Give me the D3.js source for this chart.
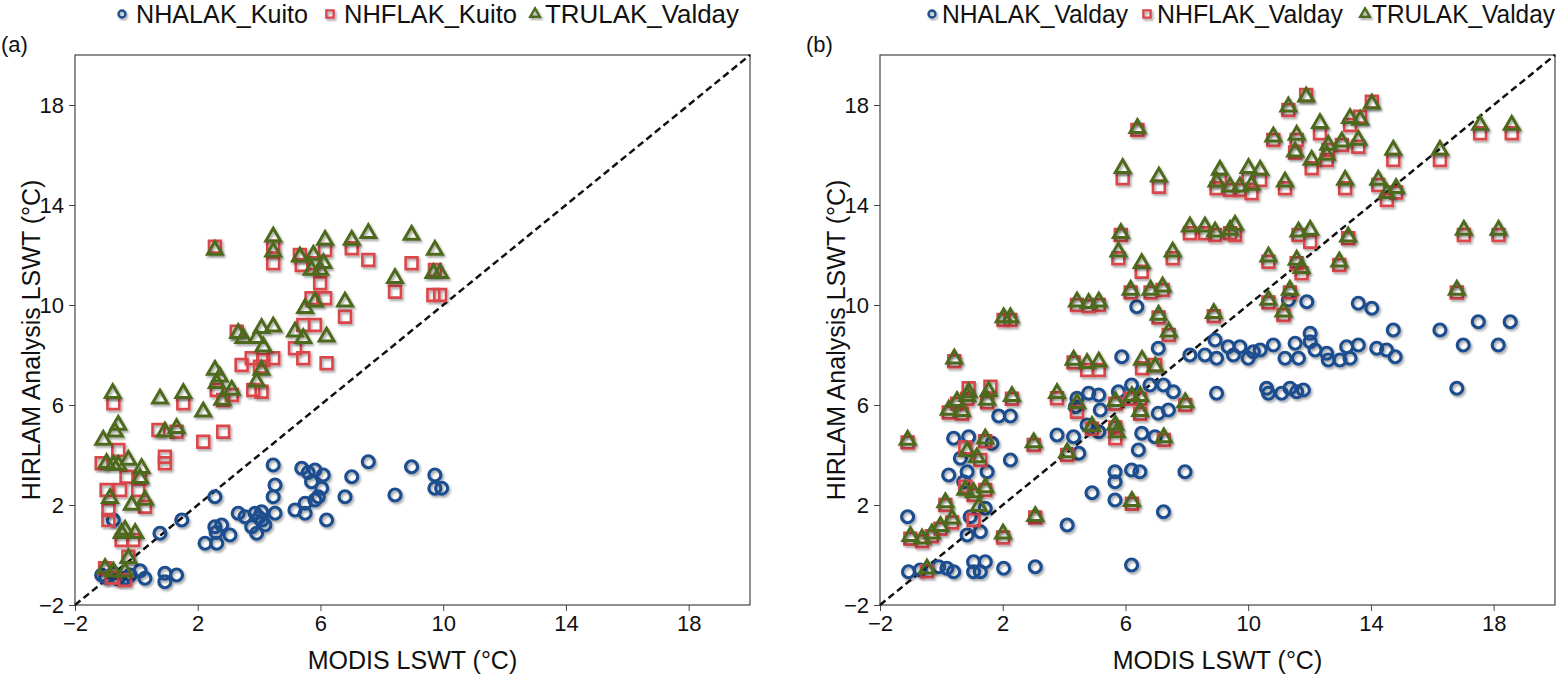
<!DOCTYPE html>
<html>
<head>
<meta charset="utf-8">
<script src="https://cdnjs.cloudflare.com/ajax/libs/d3/7.8.5/d3.min.js"></script>
<style>
  body { margin: 0; background: #fff; }
  svg text { font-family: "Liberation Sans", Arial, Helvetica, sans-serif; fill: #111; }
</style>
</head>
<body>
<script>
// ---- data: [MODIS, HIRLAM] in degC ----
const axisTicks = [-2, 2, 6, 10, 14, 18];
const axisDomain = [-2, 20];
const xTitle = 'MODIS LSWT (°C)';
const yTitle = 'HIRLAM Analysis LSWT (°C)';

// panel (a)
const legendA = ['NHALAK_Kuito', 'NHFLAK_Kuito', 'TRULAK_Valday'];
const nhalakKuito = [
  [-1.13,-0.8],[-1.0,-0.9],[-0.75,-0.73],[-0.6,-0.95],[-0.37,-0.93],[-0.2,-0.8],[0.12,-0.63],[0.28,-0.93],
  [0.93,-0.73],[0.93,-1.07],[1.31,-0.8],[-0.75,1.4],[0.77,0.87],[1.48,1.4],[2.56,2.33],[2.24,0.47],
  [2.62,0.47],[2.56,1.13],[2.78,1.2],[3.05,0.8],[2.6,0.9],[3.32,1.67],[3.54,1.53],[3.87,1.67],
  [4.08,1.73],[3.92,0.87],[3.76,1.13],[4.19,1.2],[4.0,1.5],[4.1,1.4],[4.52,1.67],[4.46,3.6],
  [4.52,2.8],[4.46,2.33],[5.17,1.8],[5.5,1.67],[5.39,3.47],[5.6,3.3],[5.82,3.4],[6.09,3.2],
  [5.71,2.93],[6.04,2.67],[5.93,2.33],[5.5,2.07],[5.82,2.2],[6.2,1.4],[7.02,3.13],[6.8,2.33],
  [7.56,3.73],[8.97,3.53],[9.73,3.2],[9.73,2.67],[9.95,2.67],[8.43,2.4]
];
const nhflakKuito = [
  [-0.75,6.07],[1.53,6.07],[0.72,5.0],[1.31,4.93],[2.83,4.93],[2.18,4.53],[0.93,3.93],[0.93,3.67],
  [-0.59,4.2],[-1.13,3.67],[-0.32,3.13],[-0.97,2.6],[-0.53,2.6],[0.06,2.6],[0.12,3.07],[-0.91,1.8],
  [-0.91,1.4],[0.28,1.93],[-0.48,0.6],[-0.1,0.6],[-0.26,-0.07],[-1.02,-0.53],[-0.37,-1.0],[-0.8,-0.9],
  [2.56,12.33],[4.46,12.33],[4.46,11.67],[5.33,12.0],[5.39,11.6],[5.77,11.67],[6.15,12.2],[7.02,12.27],
  [7.56,11.8],[8.97,11.67],[9.73,11.4],[9.68,10.4],[9.9,10.4],[8.43,10.53],[5.99,10.87],[5.71,10.27],
  [6.15,10.27],[5.44,9.2],[5.82,9.2],[6.8,9.53],[5.17,8.27],[5.44,7.87],[6.2,7.67],[3.27,8.93],
  [3.43,7.6],[3.76,7.87],[4.14,7.8],[4.46,7.87],[4.03,7.53],[2.62,6.6],[2.83,6.2],[3.81,6.6],
  [4.08,6.53],[3.11,6.4]
];
const trulakValdayA = [
  [-0.59,5.2],[-0.7,4.93],[-1.08,4.6],[-0.97,3.67],[-0.75,3.6],[-0.59,3.6],[-0.26,3.8],[0.17,3.47],
  [0.12,3.07],[-0.86,2.27],[-0.15,2.0],[0.28,2.2],[-0.37,1.0],[-0.48,0.87],[-0.04,0.87],[-0.26,-0.13],
  [-1.02,-0.53],[-0.75,-0.67],[-0.37,-0.67],[0.93,4.93],[1.31,5.07],[2.18,5.73],[2.8,6.2],[0.77,6.25],
  [-0.77,6.47],[1.53,6.47],[2.56,12.2],[4.46,12.73],[4.46,12.13],[5.33,11.93],[5.77,12.0],[6.15,12.6],
  [7.02,12.6],[7.56,12.87],[8.97,12.8],[9.73,12.2],[9.68,11.27],[9.9,11.27],[8.43,11.07],[5.99,11.4],
  [5.71,11.4],[6.1,11.67],[5.82,10.13],[5.5,9.87],[6.8,10.13],[5.17,8.93],[5.44,8.67],[6.2,8.73],
  [3.32,8.87],[3.49,8.67],[4.08,9.07],[4.46,9.13],[3.92,8.67],[4.14,8.33],[2.56,7.4],[2.72,7.13],
  [2.62,6.87],[3.11,6.6],[3.92,6.93],[4.08,7.4]
];

// panel (b)
const legendB = ['NHALAK_Valday', 'NHFLAK_Valday', 'TRULAK_Valday'];
const nhalakValday = [
  [-1.07,-0.67],[-0.69,-0.6],[-0.09,-0.47],[0.18,-0.53],[0.4,-0.67],[1.05,-0.27],[1.43,-0.27],[1.05,-0.67],
  [1.27,-0.67],[2.03,-0.53],[3.06,-0.47],[-1.1,1.53],[4.1,1.2],[4.91,2.49],[3.77,4.8],[4.31,4.73],
  [4.48,4.07],[2.25,3.8],[1.49,3.33],[0.24,3.2],[0.62,3.87],[0.84,3.33],[0.73,2.93],[0.4,4.67],
  [0.89,4.73],[1.65,4.47],[1.87,5.56],[2.25,5.56],[0.94,1.53],[0.84,0.8],[1.27,0.93],[1.43,1.87],
  [4.42,6.27],[4.8,6.47],[5.13,6.4],[5.18,5.8],[4.75,5.2],[5.13,4.93],[4.37,5.93],
  [6.37,9.93],[5.88,7.93],[7.07,8.27],[8.1,8.0],[8.59,8.0],[8.92,8.6],[8.97,7.87],[9.35,8.33],
  [9.52,8.0],[9.73,8.33],[10.0,7.87],[10.17,8.13],[10.39,8.2],[10.82,8.4],[11.2,7.87],[11.53,8.47],
  [11.64,7.87],[12.02,8.87],[12.02,8.53],[12.18,8.2],[12.56,8.07],[12.61,7.8],[12.99,7.8],[13.21,8.33],
  [13.32,7.87],[13.59,8.4],[14.19,8.27],[14.51,8.2],[14.79,7.93],[14.73,9.0],[16.25,9.0],[17.5,9.33],
  [18.54,9.33],[17.01,8.4],[18.15,8.4],[16.8,6.67],[13.59,10.07],[14.03,9.87],[11.31,10.2],[11.91,10.13],
  [8.97,6.47],[10.6,6.67],[10.66,6.47],[11.09,6.47],[11.36,6.67],[11.58,6.53],[11.8,6.6],[6.8,6.8],
  [7.24,6.8],[7.56,6.53],[6.2,6.8],[5.77,6.53],[7.07,5.67],[7.4,5.8],[6.53,4.87],[6.96,4.73],
  [6.42,4.2],[5.66,3.33],[6.2,3.4],[6.47,3.33],[7.94,3.33],[5.66,2.93],[5.66,2.2],[7.24,1.73],[6.2,-0.4]
];
const nhflakValday = [
  [2.03,9.4],[2.25,9.4],[0.42,7.75],[-1.1,4.5],[0.24,5.7],[0.51,6.05],[0.67,5.65],[0.89,6.67],
  [0.84,6.25],[1.6,6.73],[1.49,6.1],[2.3,6.25],[1.43,4.55],[0.78,4.3],[1.27,3.8],[0.78,2.73],
  [1.05,2.4],[1.43,2.6],[0.13,2.0],[0.35,1.3],[-0.03,1.05],[-0.31,0.75],[-0.63,0.55],[-1.01,0.65],
  [-0.47,-0.65],[1.05,1.4],[2.01,0.7],[3.06,1.5],[3.01,4.4],[3.77,6.27],[4.42,5.73],[4.1,4.0],
  [4.91,5.05],[4.31,7.7],[4.75,7.4],[5.13,7.4],[5.67,6.05],[6.16,6.25],[6.48,6.25],[6.48,5.65],
  [5.67,5.1],[5.67,4.67],[6.21,2.05],[7.25,4.6],[7.95,6.0],[6.54,7.47],[6.97,7.6],[7.08,9.5],
  [7.41,8.8],[4.42,10.0],[4.8,9.95],[5.13,10.0],[8.88,9.55],
  [6.39,17.0],[11.89,18.4],[11.31,17.8],[14.03,18.13],[12.34,16.87],[13.32,17.2],[13.65,17.53],[10.82,16.6],
  [11.58,16.6],[11.53,16.1],[12.07,15.47],[12.61,16.2],[12.56,15.8],[13.05,16.4],[13.59,16.33],[14.73,15.8],
  [16.25,15.8],[17.56,16.87],[18.59,16.87],[5.91,15.07],[7.09,14.73],[9.08,15.0],[8.97,14.67],[9.41,14.6],
  [9.73,14.6],[10.01,15.07],[10.39,15.0],[10.11,14.47],[11.2,14.67],[13.16,14.67],[14.24,14.8],[14.52,14.2],
  [14.82,14.5],[5.85,12.8],[5.77,11.87],[6.53,11.33],[7.54,11.87],[8.1,12.87],[8.59,12.87],[8.92,12.8],
  [9.41,12.87],[9.57,12.8],[11.64,12.8],[12.02,12.53],[13.26,12.67],[10.66,11.73],[11.58,11.67],[11.74,11.27],
  [12.97,11.6],[17.03,12.8],[18.16,12.8],[16.8,10.5],[6.17,10.5],[6.82,10.5],[7.21,10.6],[10.66,10.1],
  [11.36,10.5],[11.15,9.6]
];
const trulakValdayB = [
  [2.03,9.5],[2.25,9.5],[0.42,7.85],[-1.1,4.6],[0.24,5.8],[0.51,6.15],[0.67,5.75],[0.89,6.5],
  [0.84,6.35],[1.54,6.55],[1.49,6.2],[2.3,6.35],[1.43,4.65],[0.84,4.15],[1.16,3.9],[0.78,2.6],
  [1.05,2.5],[1.43,2.7],[0.13,2.1],[0.35,1.45],[-0.03,1.15],[-0.31,0.85],[-0.63,0.65],[-1.01,0.75],
  [-0.47,-0.55],[1.22,1.95],[2.01,0.85],[3.06,1.55],[3.01,4.5],[3.77,6.47],[4.42,6.07],[4.1,4.1],
  [4.91,5.15],[4.31,7.8],[4.75,7.67],[5.13,7.73],[5.67,6.15],[6.21,6.35],[6.48,6.35],[6.48,5.75],
  [5.67,5.2],[5.72,4.9],[6.21,2.15],[7.25,4.7],[7.95,6.1],[6.54,7.8],[6.97,7.53],[7.08,9.6],
  [7.41,8.93],[4.42,10.13],[4.8,10.07],[5.13,10.13],[8.88,9.67],
  [6.39,17.07],[11.89,18.33],[11.31,17.93],[14.03,18.05],[12.34,17.27],[13.32,17.47],[13.65,17.4],[10.82,16.73],
  [11.58,16.8],[11.53,16.13],[12.07,15.8],[12.61,16.4],[12.56,16.0],[13.05,16.53],[13.59,16.6],[14.73,16.2],
  [16.25,16.2],[17.56,17.2],[18.59,17.2],[5.91,15.47],[7.09,15.13],[9.08,15.4],[8.97,14.93],[9.41,14.73],
  [9.73,14.73],[10.01,15.47],[10.39,15.4],[10.11,14.8],[11.2,14.93],[13.16,15.0],[14.24,15.0],[14.52,14.47],
  [14.82,14.67],[5.85,12.87],[5.77,12.13],[6.53,11.67],[7.54,12.13],[8.1,13.13],[8.59,13.13],[8.92,12.93],
  [9.41,13.0],[9.57,13.2],[11.64,12.93],[12.02,13.0],[13.26,12.73],[10.66,11.93],[11.58,11.8],[11.74,11.47],
  [12.97,11.73],[17.03,13.0],[18.16,13.0],[16.8,10.6],[6.17,10.6],[6.82,10.6],[7.21,10.73],[10.66,10.2],
  [11.36,10.6],[11.15,9.73]
];

const COLORS = { circle: '#1f4e8f', square: '#d9464b', triangle: '#4e6b1f' };

const svg = d3.select('body').append('svg')
  .attr('width', 1565)
  .attr('height', 680);

const defs = svg.append('defs');
defs.append('filter')
  .attr('id', 'shadow')
  .attr('x', '-50%').attr('y', '-50%').attr('width', '200%').attr('height', '200%')
  .append('feDropShadow')
  .attr('dx', 1.5).attr('dy', 2)
  .attr('stdDeviation', 1.2)
  .attr('flood-color', '#000')
  .attr('flood-opacity', 0.35);

function markerPath(kind, big) {
  if (kind === 'circle') return d3.symbol(d3.symbolCircle, big ? 113 : 38)();
  if (kind === 'square') return d3.symbol(d3.symbolSquare, big ? 140 : 52)();
  return d3.symbol(d3.symbolTriangle, big ? 95 : 40)();
}

function drawPanel(p) {
  const g = svg.append('g');
  const x = d3.scaleLinear().domain(axisDomain).range([p.left, p.right]);
  const y = d3.scaleLinear().domain(axisDomain).range([p.bottom, p.top]);

  // frame
  g.append('rect')
    .attr('x', p.left).attr('y', p.top)
    .attr('width', p.right - p.left).attr('height', p.bottom - p.top)
    .attr('fill', 'none').attr('stroke', '#444').attr('stroke-width', 1.2);

  const xAxis = g.append('g')
    .attr('transform', 'translate(0,' + p.bottom + ')')
    .call(d3.axisBottom(x).tickValues(axisTicks).tickSize(6).tickPadding(4).tickFormat(d3.format('d')));
  const yAxis = g.append('g')
    .attr('transform', 'translate(' + p.left + ',0)')
    .call(d3.axisLeft(y).tickValues(axisTicks).tickSize(6).tickPadding(5).tickFormat(d3.format('d')));
  [xAxis, yAxis].forEach(a => {
    a.select('.domain').remove();
    a.selectAll('line').attr('stroke', '#444');
    a.selectAll('text').attr('font-size', 22).attr('fill', '#111')
      .style('font-family', '"Liberation Sans", Arial, sans-serif');
  });

  // 1:1 line
  g.append('line')
    .attr('x1', x(-2)).attr('y1', y(-2))
    .attr('x2', x(20)).attr('y2', y(20))
    .attr('stroke', '#111').attr('stroke-width', 2.5)
    .attr('stroke-dasharray', '7,4');

  const series = [
    { data: p.circles, kind: 'circle', sw: 3.2 },
    { data: p.squares, kind: 'square', sw: 2.6 },
    { data: p.triangles, kind: 'triangle', sw: 3 }
  ];
  series.forEach(s => {
    g.append('g').attr('filter', 'url(#shadow)')
      .selectAll('path')
      .data(s.data)
      .enter()
      .append('path')
      .attr('d', markerPath(s.kind, true))
      .attr('transform', d => 'translate(' + x(d[0]) + ',' + y(d[1]) + ')')
      .attr('fill', 'none')
      .attr('stroke', COLORS[s.kind])
      .attr('stroke-width', s.sw);
  });

  // titles
  g.append('text')
    .attr('x', (p.left + p.right) / 2).attr('y', 669)
    .attr('text-anchor', 'middle').attr('font-size', 25)
    .text(xTitle);
  g.append('text')
    .attr('transform', 'translate(' + p.yTitleX + ',' + ((p.top + p.bottom) / 2 + 10) + ') rotate(-90)')
    .attr('text-anchor', 'middle').attr('font-size', 25)
    .text(yTitle);
  g.append('text')
    .attr('x', p.labelX).attr('y', 52)
    .attr('font-size', 22)
    .text(p.label);

  // legend
  const kinds = ['circle', 'square', 'triangle'];
  p.legend.forEach((name, i) => {
    const lx = p.legendX[i];
    g.append('path')
      .attr('d', markerPath(kinds[i], false))
      .attr('transform', 'translate(' + lx + ',14)')
      .attr('fill', 'none')
      .attr('stroke', COLORS[kinds[i]])
      .attr('stroke-width', 2.4)
      .attr('filter', 'url(#shadow)');
    g.append('text')
      .attr('x', lx + p.legendGap[i]).attr('y', 23)
      .attr('font-size', 25)
      .attr('textLength', p.legendLen[i])
      .attr('lengthAdjust', 'spacingAndGlyphs')
      .text(name);
  });
}

drawPanel({
  left: 75, right: 750, top: 55, bottom: 605,
  yTitleX: 40, labelX: 1, label: '(a)',
  legend: legendA, legendX: [122, 330, 535], legendGap: [14, 14, 10], legendLen: [172, 173, 194],
  circles: nhalakKuito, squares: nhflakKuito, triangles: trulakValdayA
});
drawPanel({
  left: 880, right: 1555, top: 55, bottom: 605,
  yTitleX: 845, labelX: 806, label: '(b)',
  legend: legendB, legendX: [932, 1147, 1365], legendGap: [10, 10, 7], legendLen: [186, 186, 183],
  circles: nhalakValday, squares: nhflakValday, triangles: trulakValdayB
});
</script>
</body>
</html>
